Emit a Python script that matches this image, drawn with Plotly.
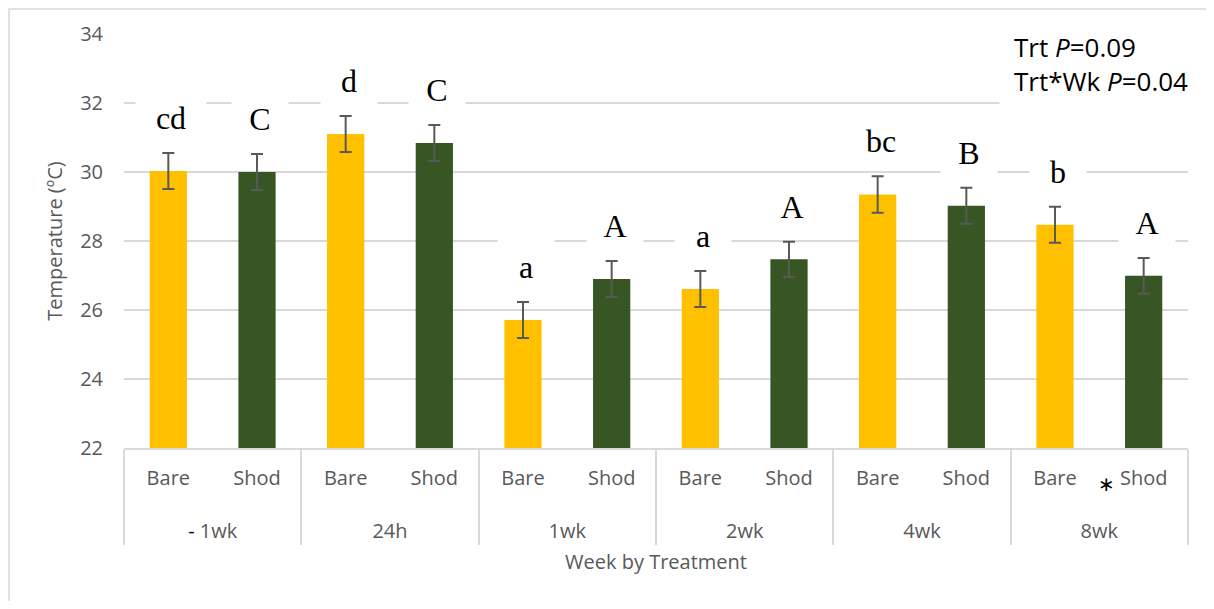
import plotly.graph_objects as go

# ---------------- data ----------------
weeks = ["- 1wk", "24h", "1wk", "2wk", "4wk", "8wk"]
treatments = ["Bare", "Shod"]
bare_mean = [30.03, 31.10, 25.71, 26.61, 29.35, 28.47]
shod_mean = [30.00, 30.84, 26.90, 27.47, 29.02, 26.99]
bare_se = [0.52, 0.52, 0.52, 0.52, 0.53, 0.52]
shod_se = [0.52, 0.52, 0.52, 0.51, 0.52, 0.52]
bare_letters = ["cd", "d", "a", "a", "bc", "b"]
shod_letters = ["C", "C", "A", "A", "B", "A"]
stats_text = ["Trt <i>P</i>=0.09", "Trt*Wk <i>P</i>=0.04"]
y_title = "Temperature (ºC)"
x_title = "Week by Treatment"

# ---------------- style ----------------
BARE_COLOR = "#FFC000"
SHOD_COLOR = "#375623"
GRID = "#D9D9D9"
TEXT_GRAY = "#595959"
SANS = "Open Sans"
SERIF = "Liberation Serif"

# page body has an 8px margin; the figure is sized to fit inside it
PAGE_OFF = 8


def week_label(w):
    # leading dash drawn in black as in the original
    if w.startswith("-"):
        return "<span style='color:#000000'>-</span>" + w[1:]
    return w


def trt_label(t):
    # blank second line gives the extra space between the two label rows
    return t + "<br><span style='font-size:46px'>\u00a0</span>"


wk_lab = [week_label(w) for w in weeks]

fig = go.Figure()
series = [
    (treatments[0], bare_mean, bare_se, bare_letters, BARE_COLOR),
    (treatments[1], shod_mean, shod_se, shod_letters, SHOD_COLOR),
]
for name, means, ses, letters, color in series:
    fig.add_trace(go.Bar(
        x=[wk_lab, [trt_label(name)] * len(weeks)],
        y=means,
        name=name,
        marker=dict(color=color, line=dict(width=0)),
        error_y=dict(type="data", array=ses, visible=True,
                     color=TEXT_GRAY, thickness=2, width=6),
        showlegend=False,
    ))

# significance letters above error bars (category index = 2*week + trt)
for t, (name, means, ses, letters, color) in enumerate(series):
    for w in range(len(weeks)):
        lab = letters[w]
        fig.add_annotation(
            x=2 * w + t, xref="x",
            y=means[w] + ses[w], yref="y",
            text=lab, showarrow=False,
            xanchor="center", yanchor="middle", yshift=35, xshift=3,
            font=dict(family=SERIF, size=32, color="#000000"),
            bgcolor="#FFFFFF", borderpad=10,
            width=22 + 14 * len(lab),
        )

# statistics text box (top right)
fig.add_annotation(
    x=(999 - 124) / 1064, xref="paper", xanchor="left",
    y=(448 - 14) / 414, yref="paper", yanchor="top",
    text="<br>".join(stats_text), align="left", showarrow=False,
    font=dict(family=SANS, size=26, color="#000000"),
    bgcolor="#FFFFFF", borderpad=14,
)

# asterisk marking 8wk Shod
fig.add_annotation(
    x=(1106 - 124) / 1064, xref="paper", xanchor="center",
    y=(448 - 484) / 414, yref="paper", yanchor="middle",
    text="∗", showarrow=False,
    font=dict(family="DejaVu Sans", size=20, color="#000000"),
)

# outer chart border (top and left visible)
fig.add_shape(type="rect", xref="paper", yref="paper",
              x0=(9 - 124) / 1064, x1=(1260 - 124) / 1064,
              y0=(448 - 660) / 414, y1=(448 - 9) / 414,
              line=dict(color=GRID, width=1.5), fillcolor="rgba(0,0,0,0)",
              layer="below")

fig.update_layout(
    width=1214 - 2 * PAGE_OFF, height=609 - 2 * PAGE_OFF,
    margin=dict(l=124 - PAGE_OFF, r=1214 - PAGE_OFF - 1188, t=34 - PAGE_OFF,
                b=609 - PAGE_OFF - 448, pad=0),
    paper_bgcolor="#FFFFFF", plot_bgcolor="#FFFFFF",
    barmode="overlay", bargap=0.58,
    font=dict(family=SANS, size=20, color=TEXT_GRAY),
    xaxis=dict(
        type="multicategory",
        showdividers=True, dividercolor=GRID, dividerwidth=1.5,
        showline=True, linecolor=GRID, linewidth=1.5,
        showgrid=False, ticks="", zeroline=False,
        ticklabelstandoff=11,
        tickfont=dict(family=SANS, size=20, color=TEXT_GRAY),
        title=dict(text=x_title, font=dict(family=SANS, size=20, color=TEXT_GRAY),
                   standoff=12),
    ),
    yaxis=dict(
        range=[22, 34], dtick=2, tick0=22,
        showgrid=True, gridcolor=GRID, gridwidth=1.5,
        showline=False, zeroline=False, ticks="",
        ticklabelstandoff=20,
        tickfont=dict(family=SANS, size=20, color=TEXT_GRAY),
        title=dict(text=y_title, font=dict(family=SANS, size=20, color=TEXT_GRAY),
                   standoff=12),
    ),
)

fig.write_html("out.html")
